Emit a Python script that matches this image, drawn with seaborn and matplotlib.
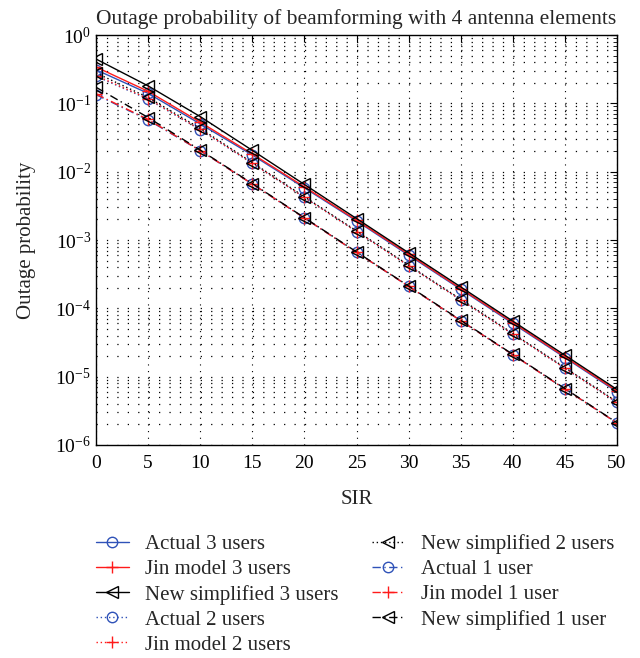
import numpy as np
import matplotlib
matplotlib.use("Agg")
import matplotlib.pyplot as plt
import seaborn as sns
from matplotlib.ticker import LogLocator, MultipleLocator, NullFormatter

sns.set_theme(style="white")
plt.rcParams["font.family"] = ["Liberation Serif", "DejaVu Serif"]
plt.rcParams["mathtext.fontset"] = "custom"
plt.rcParams["mathtext.rm"] = "Liberation Serif"
plt.rcParams["mathtext.it"] = "Liberation Serif:italic"

# Signal-to-interference ratio (dB)
sir = [0, 5, 10, 15, 20, 25, 30, 35, 40, 45, 50]

# Outage probability, 3 interfering users
actual_3 = [0.31, 0.140, 0.050, 0.0175, 0.0058, 0.0019, 6.0e-4, 1.9e-4, 6.0e-5, 1.9e-5, 6.0e-6]
jin_3 = [0.34, 0.150, 0.053, 0.0182, 0.0060, 0.00195, 6.2e-4, 1.95e-4, 6.2e-5, 1.95e-5, 6.2e-6]
new_3 = [0.445, 0.180, 0.064, 0.0205, 0.0065, 0.00206, 6.5e-4, 2.06e-4, 6.5e-5, 2.06e-5, 6.5e-6]

# Outage probability, 2 interfering users
actual_2 = [0.249, 0.115, 0.041, 0.0132, 0.0042, 0.00133, 4.2e-4, 1.33e-4, 4.2e-5, 1.33e-5, 4.2e-6]
jin_2 = [0.255, 0.117, 0.0415, 0.0133, 0.0042, 0.00133, 4.2e-4, 1.33e-4, 4.2e-5, 1.33e-5, 4.2e-6]
new_2 = [0.278, 0.122, 0.043, 0.0136, 0.0043, 0.00136, 4.3e-4, 1.36e-4, 4.3e-5, 1.36e-5, 4.3e-6]

# Outage probability, 1 interfering user
actual_1 = [0.134, 0.057, 0.0203, 0.0066, 0.0021, 6.6e-4, 2.1e-4, 6.6e-5, 2.1e-5, 6.6e-6, 2.1e-6]
jin_1 = [0.137, 0.058, 0.0204, 0.0066, 0.0021, 6.6e-4, 2.1e-4, 6.6e-5, 2.1e-5, 6.6e-6, 2.1e-6]
new_1 = [0.172, 0.062, 0.0207, 0.0067, 0.00212, 6.7e-4, 2.12e-4, 6.7e-5, 2.12e-5, 6.7e-6, 2.12e-6]

labels = [
    "Actual 3 users", "Jin model 3 users", "New simplified 3 users",
    "Actual 2 users", "Jin model 2 users", "New simplified 2 users",
    "Actual 1 user", "Jin model 1 user", "New simplified 1 user",
]
series = [actual_3, jin_3, new_3, actual_2, jin_2, new_2, actual_1, jin_1, new_1]

BLUE = "#2f52b8"
RED = "#ff1a1a"
BLACK = "#000000"
model_style = [
    dict(color=BLUE, marker="o", markersize=7.5, markerfacecolor="none",
         markeredgecolor=BLUE, markeredgewidth=1.0),
    dict(color=RED, marker="+", markersize=8, markerfacecolor=RED,
         markeredgecolor=RED, markeredgewidth=1.0),
    dict(color=BLACK, marker="<", markersize=9, markerfacecolor="none",
         markeredgecolor=BLACK, markeredgewidth=1.0),
]
user_ls = ["-", (0, (1, 2)), (0, (6, 2.5, 1, 2.5))]

fig = plt.figure(figsize=(6.40, 6.58), dpi=100)
ax = fig.add_axes([96 / 640, 213 / 658, 521 / 640, 410 / 658])

for i, (lab, vals) in enumerate(zip(labels, series)):
    sns.lineplot(x=sir, y=vals, ax=ax, label=lab)
    line = ax.lines[-1]
    line.set(linestyle=user_ls[i // 3], linewidth=1.0, **model_style[i % 3])

ax.set_yscale("log")
ax.set_xlim(0, 50)
ax.set_ylim(1e-6, 1)
ax.xaxis.set_major_locator(MultipleLocator(5))
ax.yaxis.set_major_locator(LogLocator(base=10, numticks=10))
ax.yaxis.set_minor_locator(LogLocator(base=10, subs=np.arange(2, 10), numticks=20))
ax.yaxis.set_minor_formatter(NullFormatter())

# horizontal grid: dots spaced one SIR unit apart; vertical grid: finer dots
unit_pt = (521 / 50) * 72 / 100
hlw = 0.9
ax.grid(True, which="both", axis="y", color="black", linewidth=hlw,
        linestyle=(0, (1, unit_pt / hlw - 1)))
ax.grid(True, which="major", axis="x", color="black", linewidth=0.8,
        linestyle=(0, (1, 5)))
ax.set_axisbelow(True)

for sp in ax.spines.values():
    sp.set_color("black")
    sp.set_linewidth(1.0)
    sp.set_visible(True)

ax.tick_params(which="both", direction="in", top=True, right=True, colors="black",
               labelsize=14)
ax.tick_params(which="major", length=5, width=0.8)
ax.tick_params(which="minor", length=3, width=0.6)
ax.tick_params(axis="x", pad=7)

ax.set_title("Outage probability of beamforming with 4 antenna elements",
             fontsize=15.5, pad=8)
ax.set_xlabel("SIR", fontsize=15, labelpad=13)
ax.set_ylabel("Outage probability", fontsize=15, labelpad=14)

handles, labs = ax.get_legend_handles_labels()
ax.get_legend().remove()
fig.legend(handles, labs, loc="upper left", bbox_to_anchor=(88 / 640, 1 - 526 / 658),
           ncol=2, frameon=False, fontsize=15, handlelength=1.55,
           handletextpad=0.8, columnspacing=1.6, labelspacing=0.26,
           borderaxespad=0)

fig.savefig("out.png", dpi=100, facecolor="white")
